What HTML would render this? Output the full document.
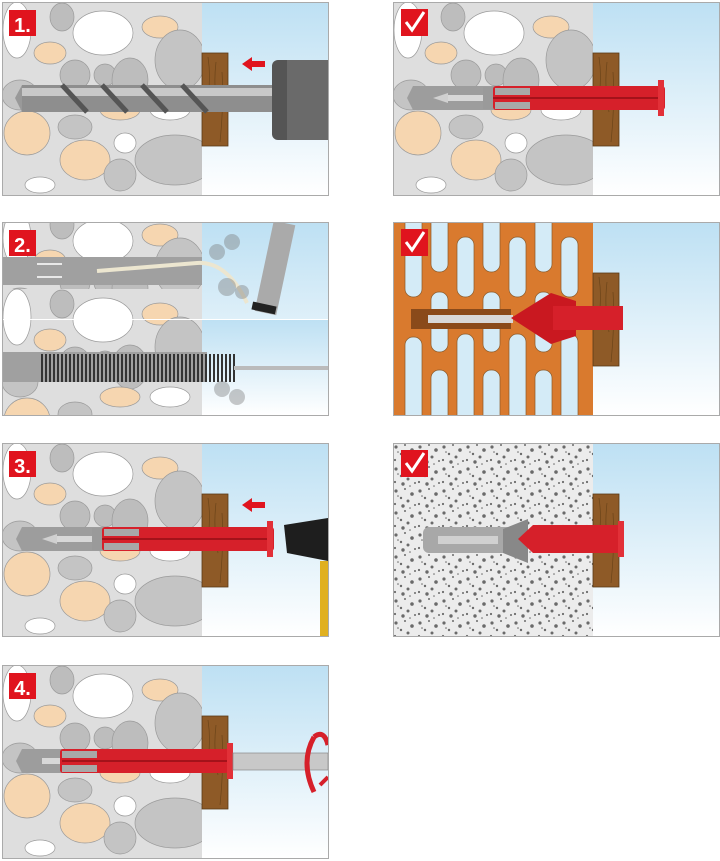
<!DOCTYPE html>
<html><head><meta charset="utf-8"><style>
html,body{margin:0;padding:0;background:#fff;width:720px;height:861px;overflow:hidden}
svg{display:block}
text{font-family:"Liberation Sans",sans-serif;font-weight:bold}
</style></head><body>
<svg width="720" height="861" viewBox="0 0 720 861" xmlns="http://www.w3.org/2000/svg">
<defs>
<linearGradient id="sky" x1="0" y1="0" x2="0" y2="1">
<stop offset="0" stop-color="#bde0f3"/><stop offset="1" stop-color="#ffffff"/></linearGradient>
<pattern id="dots" width="24" height="22" patternUnits="userSpaceOnUse">
<rect width="24" height="22" fill="#ececec"/>
<g fill="#6a6a6a"><circle cx="3" cy="4" r="1.6"/><circle cx="12" cy="2" r="1"/><circle cx="19" cy="7" r="1.8"/><circle cx="8" cy="11" r="1.2"/><circle cx="15" cy="14" r="1.5"/><circle cx="2" cy="17" r="1.1"/><circle cx="22" cy="18" r="1"/><circle cx="10" cy="19" r="1.7"/><circle cx="17" cy="21" r="0.8"/><circle cx="5" cy="9" r="0.8"/></g>
</pattern>
<clipPath id="pc"><rect x="0" y="0" width="326" height="193"/></clipPath>
<g id="stones" stroke="#9a9a9a" stroke-width="0.7">
<rect x="0" y="0" width="200" height="193" fill="#dedede" stroke="none"/>
<ellipse cx="15" cy="28" rx="14" ry="28" fill="#fff"/>
<ellipse cx="60" cy="15" rx="12" ry="14" fill="#bdbdbd"/>
<ellipse cx="101" cy="31" rx="30" ry="22" fill="#fff"/>
<ellipse cx="158" cy="25" rx="18" ry="11" fill="#f6d6b0"/>
<ellipse cx="48" cy="51" rx="16" ry="11" fill="#f6d6b0"/>
<ellipse cx="73" cy="73" rx="15" ry="15" fill="#bdbdbd"/>
<ellipse cx="103" cy="73" rx="11" ry="11" fill="#bdbdbd"/>
<ellipse cx="128" cy="78" rx="18" ry="22" fill="#bdbdbd"/>
<ellipse cx="178" cy="58" rx="25" ry="30" fill="#c4c4c4"/>
<ellipse cx="18" cy="93" rx="18" ry="15" fill="#c4c4c4"/>
<ellipse cx="118" cy="108" rx="20" ry="10" fill="#f6d6b0"/>
<ellipse cx="168" cy="108" rx="20" ry="10" fill="#fff"/>
<ellipse cx="25" cy="131" rx="23" ry="22" fill="#f6d6b0"/>
<ellipse cx="73" cy="125" rx="17" ry="12" fill="#c4c4c4"/>
<ellipse cx="123" cy="141" rx="11" ry="10" fill="#fff"/>
<ellipse cx="83" cy="158" rx="25" ry="20" fill="#f6d6b0"/>
<ellipse cx="118" cy="173" rx="16" ry="16" fill="#c4c4c4"/>
<ellipse cx="173" cy="158" rx="40" ry="25" fill="#c4c4c4"/>
<ellipse cx="38" cy="183" rx="15" ry="8" fill="#fff"/>
</g>
<rect id="sky1" x="200" y="0" width="126" height="193" fill="url(#sky)"/>
<g id="wood"><rect x="200" y="51" width="26" height="93" fill="#8e5a27" stroke="#5a3a18" stroke-width="0.8"/>
<path d="M206 55 q3 20 0 40 M214 60 q-3 25 2 50 M220 70 q2 30 -2 70" stroke="#6b4419" stroke-width="0.7" fill="none"/></g>
<g id="check"><rect x="8" y="7" width="27" height="27" fill="#e0141e"/>
<path d="M13 20 l6 8 l12 -18" stroke="#fff" stroke-width="3" fill="none"/></g>
<g id="dowel">
<rect x="20" y="84" width="90" height="24" fill="#9d9d9d"/>
<path d="M20 84 l-6 12 l6 12z" fill="#9d9d9d"/>
<rect x="55" y="93" width="40" height="6" fill="#d8d8d8"/>
<path d="M40 96 l15 -5 v10z" fill="#d0d0d0"/>
<rect x="90" y="85" width="40" height="22" fill="#9a9a9a"/>
<rect x="100" y="84" width="172" height="24" fill="#d6202a" rx="3"/>
<rect x="100" y="95" width="165" height="2" fill="#a4121a"/>
<rect x="265" y="78" width="6" height="36" fill="#e23038"/>
<rect x="102" y="86" width="35" height="7" fill="#a8a8a8"/><rect x="102" y="100" width="35" height="7" fill="#a8a8a8"/>
</g>
</defs>
<rect width="720" height="861" fill="#fff"/>

<!-- Panel 1 -->
<g transform="translate(2,2)" clip-path="url(#pc)">
<use href="#stones"/><use href="#sky1"/><use href="#wood"/>
<rect x="20" y="83" width="255" height="27" fill="#8e8e8e"/>
<rect x="20" y="86" width="255" height="8" fill="#c8c8c8"/>
<path d="M60 83 l25 27 M100 83 l25 27 M140 83 l25 27 M180 83 l25 27" stroke="#555" stroke-width="5"/>
<path d="M20 83 l-7 13 l7 14z" fill="#999"/>
<rect x="270" y="58" width="56" height="80" fill="#555" rx="6"/>
<rect x="285" y="58" width="41" height="80" fill="#6a6a6a"/>
<polygon points="240,62 250,55 250,59 263,59 263,65 250,65 250,69" fill="#e0141e"/>
<rect x="7" y="8" width="27" height="26" fill="#e0141e"/>
<text x="20.5" y="30" font-size="20" fill="#fff" text-anchor="middle">1.</text>
</g>
<rect x="2.5" y="2.5" width="326" height="193" fill="none" stroke="#aaa"/>

<!-- Panel 2 -->
<g transform="translate(2,222)" clip-path="url(#pc)">
<use href="#stones" transform="translate(0,-12)"/><use href="#sky1"/>
<rect x="0" y="35" width="200" height="28" fill="#a0a0a0"/>
<path d="M95 49 q60 -5 100 -8 q30 -2 50 40" stroke="#ece6d0" stroke-width="4" fill="none"/>
<path d="M35 42 h25 M35 55 h25" stroke="#fff" stroke-width="1.5"/>
<g fill="#777"><circle cx="215" cy="30" r="8" opacity="0.4"/><circle cx="230" cy="20" r="8" opacity="0.4"/><circle cx="225" cy="65" r="9" opacity="0.4"/><circle cx="240" cy="70" r="7" opacity="0.4"/></g>
<rect x="262" y="0" width="22" height="92" fill="#aaa" transform="rotate(12 273 46)"/>
<rect x="250" y="82" width="24" height="8" fill="#222" transform="rotate(12 262 86)"/>
<g transform="translate(0,97)">
<use href="#stones" transform="translate(0,-30)"/>
<rect x="200" y="0" width="126" height="96" fill="url(#sky)"/>
<rect x="0" y="0" width="326" height="1" fill="#fff"/>
<rect x="0" y="33" width="205" height="30" fill="#a0a0a0"/>
<path d="M40 35 v28 M44 35 v28 M48 35 v28 M52 35 v28 M56 35 v28 M60 35 v28 M64 35 v28 M68 35 v28 M72 35 v28 M76 35 v28 M80 35 v28 M84 35 v28 M88 35 v28 M92 35 v28 M96 35 v28 M100 35 v28 M104 35 v28 M108 35 v28 M112 35 v28 M116 35 v28 M120 35 v28 M124 35 v28 M128 35 v28 M132 35 v28 M136 35 v28 M140 35 v28 M144 35 v28 M148 35 v28 M152 35 v28 M156 35 v28 M160 35 v28 M164 35 v28 M168 35 v28 M172 35 v28 M176 35 v28 M180 35 v28 M184 35 v28 M188 35 v28 M192 35 v28 M196 35 v28 M200 35 v28 M204 35 v28 M208 35 v28 M212 35 v28 M216 35 v28 M220 35 v28 M224 35 v28 M228 35 v28 M232 35 v28" stroke="#333" stroke-width="2"/>
<rect x="232" y="47" width="94" height="4" fill="#bbb"/>
<g fill="#777"><circle cx="220" cy="70" r="8" opacity="0.4"/><circle cx="235" cy="78" r="8" opacity="0.4"/></g>
</g>
<rect x="7" y="8" width="27" height="26" fill="#e0141e"/>
<text x="20.5" y="30" font-size="20" fill="#fff" text-anchor="middle">2.</text>
</g>
<rect x="2.5" y="222.5" width="326" height="193" fill="none" stroke="#aaa"/>

<!-- Panel 3 -->
<g transform="translate(2,443)" clip-path="url(#pc)">
<use href="#stones"/><use href="#sky1"/><use href="#wood"/>
<use href="#dowel"/>
<polygon points="240,62 250,55 250,59 263,59 263,65 250,65 250,69" fill="#e0141e"/>
<polygon points="282,82 326,75 326,118 285,110" fill="#1e1e1e"/>
<rect x="318" y="118" width="8" height="75" fill="#e0b020"/>
<rect x="7" y="8" width="27" height="26" fill="#e0141e"/>
<text x="20.5" y="30" font-size="20" fill="#fff" text-anchor="middle">3.</text>
</g>
<rect x="2.5" y="443.5" width="326" height="193" fill="none" stroke="#aaa"/>

<!-- Panel 4 -->
<g transform="translate(2,665)" clip-path="url(#pc)">
<use href="#stones"/><use href="#sky1"/><use href="#wood"/>
<rect x="20" y="84" width="50" height="24" fill="#9d9d9d"/>
<path d="M20 84 l-6 12 l6 12z" fill="#9d9d9d"/>
<rect x="40" y="93" width="20" height="6" fill="#d8d8d8"/>
<rect x="58" y="84" width="172" height="24" fill="#d6202a" rx="3"/>
<rect x="60" y="86" width="35" height="7" fill="#a8a8a8"/><rect x="60" y="100" width="35" height="7" fill="#a8a8a8"/>
<rect x="60" y="95" width="165" height="2" fill="#a4121a"/>
<rect x="225" y="78" width="6" height="36" fill="#e23038"/>
<rect x="231" y="88" width="95" height="17" fill="#c8c8c8" stroke="#888" stroke-width="0.7"/>
<path d="M312 72 q-14 25 0 55" stroke="#d6202a" stroke-width="5" fill="none"/>
<path d="M312 72 q10 -8 14 8" stroke="#d6202a" stroke-width="5" fill="none"/>
<path d="M318 120 l8 -8" stroke="#d6202a" stroke-width="4"/>
<rect x="7" y="8" width="27" height="26" fill="#e0141e"/>
<text x="20.5" y="30" font-size="20" fill="#fff" text-anchor="middle">4.</text>
</g>
<rect x="2.5" y="665.5" width="326" height="193" fill="none" stroke="#aaa"/>

<!-- Right A -->
<g transform="translate(393,2)" clip-path="url(#pc)">
<use href="#stones"/><use href="#sky1"/><use href="#wood"/>
<use href="#dowel"/>
<use href="#check"/>
</g>
<rect x="393.5" y="2.5" width="326" height="193" fill="none" stroke="#aaa"/>

<!-- Right B -->
<g transform="translate(393,222)" clip-path="url(#pc)">
<rect x="0" y="0" width="326" height="193" fill="url(#sky)"/>
<rect x="0" y="0" width="200" height="193" fill="#d97a2e"/>
<g fill="#d4ebf7" stroke="#8a5a2a" stroke-width="0.7">
<rect x="38" y="-10" width="17" height="60" rx="8"/><rect x="90" y="-10" width="17" height="60" rx="8"/><rect x="142" y="-10" width="17" height="60" rx="8"/>
<rect x="12" y="-10" width="17" height="85" rx="8"/><rect x="64" y="15" width="17" height="60" rx="8"/><rect x="116" y="15" width="17" height="60" rx="8"/><rect x="168" y="15" width="17" height="60" rx="8"/>
<rect x="38" y="70" width="17" height="60" rx="8"/><rect x="90" y="70" width="17" height="60" rx="8"/><rect x="142" y="70" width="17" height="60" rx="8"/>
<rect x="12" y="115" width="17" height="90" rx="8"/><rect x="64" y="112" width="17" height="90" rx="8"/><rect x="116" y="112" width="17" height="90" rx="8"/><rect x="168" y="112" width="17" height="90" rx="8"/>
<rect x="38" y="148" width="17" height="60" rx="8"/><rect x="90" y="148" width="17" height="60" rx="8"/><rect x="142" y="148" width="17" height="60" rx="8"/>
</g>
<use href="#wood"/>
<rect x="18" y="87" width="100" height="20" fill="#8a4a1a"/>
<rect x="35" y="93" width="85" height="8" fill="#d8d8d8"/>
<path d="M118 96 l40 -25 l25 8 v35 l-25 8z" fill="#c91820"/>
<rect x="160" y="84" width="70" height="24" fill="#d6202a"/>
<use href="#check"/>
</g>
<rect x="393.5" y="222.5" width="326" height="193" fill="none" stroke="#aaa"/>

<!-- Right C -->
<g transform="translate(393,443)" clip-path="url(#pc)">
<use href="#sky1"/>
<rect x="0" y="0" width="200" height="193" fill="url(#dots)"/>
<use href="#wood"/>
<rect x="30" y="84" width="100" height="26" fill="#a8a8a8" rx="6"/>
<rect x="45" y="93" width="60" height="8" fill="#d0d0d0"/>
<path d="M110 86 l25 -10 v44 l-25 -10z" fill="#888"/>
<path d="M125 96 l15 -14 h90 v28 h-90z" fill="#d6202a"/>
<rect x="225" y="78" width="6" height="36" fill="#e23038"/>
<use href="#check"/>
</g>
<rect x="393.5" y="443.5" width="326" height="193" fill="none" stroke="#aaa"/>
</svg>
</body></html>
